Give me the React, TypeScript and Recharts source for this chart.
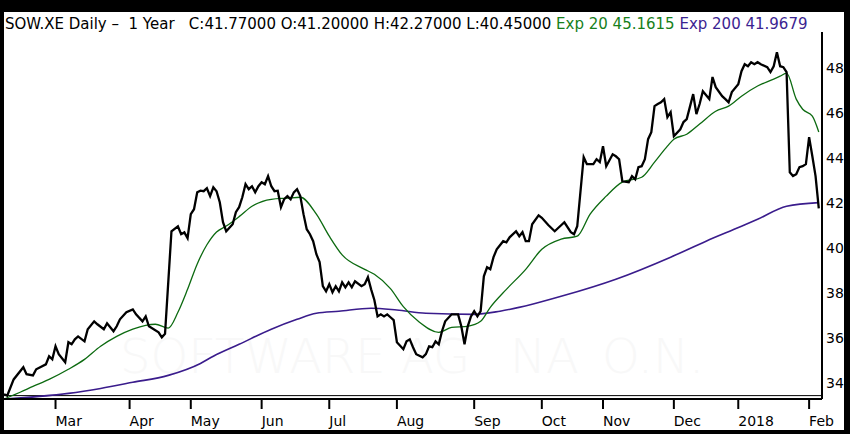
import React from 'react';
import { LineChart, Line, XAxis, YAxis, ReferenceLine } from 'recharts';

// trading-day index of the first session of each month
const MONTH_TICKS = [16, 39, 58, 80, 101, 122, 146, 167, 186, 208, 228, 250];
const MONTH_LABELS = ['Mar', 'Apr', 'May', 'Jun', 'Jul', 'Aug', 'Sep', 'Oct', 'Nov', 'Dec', '2018', 'Feb'];
const PRICE_TICKS = [34, 36, 38, 40, 42, 44, 46, 48];
const LAST_DAY = 253;

// [trading day, close]
const CLOSE: [number, number][] = [
  [0, 33.51], [1, 33.45], [3, 34.17], [6, 34.71], [7, 34.4], [9, 34.35], [10, 34.62], [13, 34.84],
  [14, 35.2], [15, 35.06], [16, 35.64], [17, 35.29], [19, 34.93], [20, 35.82], [21, 35.73], [22, 35.95],
  [23, 36.08], [25, 35.86], [26, 36.4], [28, 36.75], [29, 36.62], [31, 36.4], [32, 36.66], [34, 36.31],
  [35, 36.53], [36, 36.84], [38, 37.15], [40, 37.28], [41, 37.06], [43, 36.75], [44, 36.97], [45, 36.53],
  [48, 36.26], [49, 36.04], [50, 36.2], [52, 40.75], [54, 40.97], [55, 40.62], [56, 40.7], [57, 40.44],
  [58, 41.51], [59, 41.73], [60, 42.48], [61, 42.55], [62, 42.53], [63, 42.66], [64, 42.31], [65, 42.7],
  [66, 42.53], [67, 42.04], [68, 41.15], [69, 40.75], [71, 41.06], [72, 41.6], [73, 41.82], [74, 42.26],
  [75, 42.84], [76, 42.62], [77, 42.75], [78, 42.48], [79, 42.75], [80, 42.93], [81, 42.84], [82, 43.2],
  [83, 42.75], [84, 42.53], [85, 42.55], [86, 41.82], [87, 42.18], [88, 42.31], [89, 42.17], [90, 42.48],
  [91, 42.62], [92, 42.31], [93, 41.51], [94, 40.84], [95, 40.62], [96, 40.31], [97, 39.73], [98, 39.38],
  [99, 38.31], [100, 38.08], [101, 38.4], [102, 38.04], [103, 38.31], [104, 38.08], [105, 38.48], [106, 38.26],
  [107, 38.48], [108, 38.26], [109, 38.53], [111, 38.31], [112, 38.4], [113, 38.71], [114, 38.17], [115, 37.7],
  [116, 36.97], [117, 37.06], [118, 36.97], [119, 37.06], [120, 36.93], [121, 36.8], [122, 35.82], [124, 35.51],
  [125, 35.86], [126, 35.95], [127, 35.6], [128, 35.29], [130, 35.15], [131, 35.29], [132, 35.64], [133, 35.6],
  [134, 35.86], [135, 35.73], [136, 36.31], [137, 36.75], [139, 37.06], [141, 37.06], [142, 36.53], [143, 35.73],
  [144, 36.53], [145, 36.97], [146, 37.2], [147, 36.97], [148, 37.2], [149, 38.75], [150, 39.15], [151, 39.06],
  [152, 39.6], [153, 39.95], [155, 40.31], [156, 40.26], [157, 40.48], [159, 40.75], [160, 40.53], [161, 40.71],
  [162, 40.31], [163, 40.31], [164, 41.06], [166, 41.46], [167, 41.35], [169, 41.03], [171, 40.75], [174, 41.15],
  [176, 40.71], [177, 40.62], [178, 40.97], [180, 44.04], [181, 43.73], [183, 43.73], [184, 43.95], [185, 43.82],
  [186, 44.53], [187, 43.64], [189, 44.17], [190, 44.08], [191, 43.95], [192, 42.97], [194, 42.93], [195, 43.2],
  [196, 43.06], [197, 43.6], [198, 43.64], [199, 43.95], [200, 44.84], [201, 45.15], [202, 46.31], [203, 46.4],
  [204, 46.48], [205, 46.62], [206, 45.82], [207, 46.04], [208, 44.97], [210, 45.28], [211, 45.6], [212, 45.73],
  [214, 46.84], [215, 45.95], [216, 46.4], [217, 46.97], [219, 46.62], [220, 47.6], [221, 47.15], [223, 46.75],
  [224, 46.62], [225, 46.48], [226, 46.93], [228, 47.28], [229, 47.86], [230, 48.17], [231, 48.08], [232, 48.26],
  [233, 48.17], [234, 48.26], [235, 48.17], [237, 48.04], [238, 47.82], [239, 48.08], [240, 48.7], [241, 48.08],
  [242, 48.04], [243, 47.82], [244, 43.37], [245, 43.2], [246, 43.28], [247, 43.6], [248, 43.64], [249, 43.73],
  [250, 44.93], [251, 44.08], [252, 43.2], [253, 41.77],
];

// [trading day, exp 20]
const EXP20: [number, number][] = [
  [0, 33.3], [5, 33.6], [9, 33.86], [14, 34.17], [20, 34.62], [25, 35.06], [30, 35.64], [35, 36.08],
  [40, 36.4], [44, 36.57], [47, 36.62], [51, 36.45], [54, 37.15], [57, 38.17], [60, 39.3], [63, 40.15],
  [66, 40.72], [69, 40.98], [73, 41.4], [77, 41.86], [83, 42.17], [88, 42.22], [92, 42.26], [97, 41.51],
  [101, 40.53], [105, 39.7], [112, 39.06], [115, 38.84], [120, 38.2], [124, 37.4], [129, 36.71], [135, 36.26],
  [139, 36.48], [144, 36.53], [148, 36.75], [151, 37.37], [156, 38.17], [162, 39.06], [167, 39.95], [173, 40.4],
  [178, 40.53], [182, 41.51], [187, 42.31], [192, 42.93], [198, 43.15], [202, 43.82], [206, 44.53], [208, 44.84],
  [212, 45.06], [216, 45.51], [221, 46.08], [225, 46.31], [229, 46.75], [234, 47.2], [239, 47.51], [241, 47.64],
  [243, 47.77], [246, 46.62], [248, 46.17], [251, 45.86], [253, 45.16],
];

// [trading day, exp 200]
const EXP200: [number, number][] = [
  [0, 33.3], [20, 33.55], [30, 33.77], [40, 34.04], [51, 34.35], [61, 34.88], [65, 35.2], [73, 35.73],
  [83, 36.4], [91, 36.84], [97, 37.11], [104, 37.2], [114, 37.33], [122, 37.25], [131, 37.11], [146, 37.06],
  [154, 37.2], [164, 37.51], [173, 37.86], [190, 38.62], [207, 39.6], [218, 40.31], [229, 40.97], [234, 41.28],
  [243, 41.86], [253, 42.02],
];

type Row = { day: number; close?: number; exp20?: number; exp200?: number };
const rows: Row[] = Array.from({ length: LAST_DAY + 1 }, (_, day) => ({ day }));
CLOSE.forEach(([d, v]) => { rows[d].close = v; });
EXP20.forEach(([d, v]) => { rows[d].exp20 = v; });
EXP200.forEach(([d, v]) => { rows[d].exp200 = v; });

const FONT = '"DejaVu Sans", Verdana, sans-serif';
const GREEN = '#0c6a10';
const PURPLE = '#3a1c8c';

const mark: React.CSSProperties = {
  position: 'absolute',
  top: 332,
  fontFamily: FONT,
  fontSize: 48,
  lineHeight: '48px',
  fontWeight: 200,
  color: '#f8f8f8',
  whiteSpace: 'pre',
};

export default function App() {
  return (
    <div style={{ position: 'absolute', left: 0, top: 0, width: 850, height: 434, background: '#000', overflow: 'hidden' }}>
      <div style={{ position: 'absolute', left: 4, top: 12, width: 840, height: 418, background: '#fff' }} />
      <span style={{ ...mark, left: 120 }}>SOFTWARE AG</span>
      <span style={{ ...mark, left: 510 }}>NA</span>
      <span style={{ ...mark, left: 602 }}>O.N.</span>
      <div
        style={{
          position: 'absolute', left: 5, top: 17, fontFamily: FONT, fontSize: 15,
          lineHeight: '15px', whiteSpace: 'pre', color: '#000',
        }}
      >
        {'SOW.XE Daily \u2013  1 Year   C:41.77000 O:41.20000 H:42.27000 L:40.45000 '}
        <span style={{ color: '#17801b' }}>Exp 20 45.1615</span>{' '}
        <span style={{ color: '#3b2491' }}>Exp 200 41.9679</span>
      </div>
      <div style={{ position: 'absolute', left: 0, top: 0 }}>
        <LineChart
          width={850}
          height={434}
          data={rows}
          margin={{ top: 32, right: 0, bottom: 0, left: 4 }}
          style={{ fontFamily: FONT }}
        >
          <XAxis
            dataKey="day"
            type="number"
            domain={[0, 254]}
            ticks={MONTH_TICKS}
            tickFormatter={(d: number) => MONTH_LABELS[MONTH_TICKS.indexOf(d)] ?? ''}
            height={35}
            interval={0}
            axisLine={{ stroke: '#000', strokeWidth: 2 }}
            tickLine={{ stroke: '#000', strokeWidth: 2 }}
            tickSize={10}
            tickMargin={7}
            tick={{ fill: '#000', fontSize: 14, textAnchor: 'start' }}
          />
          <YAxis
            orientation="right"
            type="number"
            domain={[33.3, 49.6]}
            ticks={PRICE_TICKS}
            allowDataOverflow
            width={28}
            axisLine={{ stroke: '#000', strokeWidth: 2 }}
            tickLine={false}
            tickSize={0}
            tickMargin={4}
            tick={{ fill: '#000', fontSize: 14 }}
          />
          <ReferenceLine y={33.45} stroke="#000" strokeWidth={1} />
          <Line
            dataKey="exp200"
            type="monotone"
            stroke={PURPLE}
            strokeWidth={1.6}
            dot={false}
            connectNulls
            isAnimationActive={false}
          />
          <Line
            dataKey="exp20"
            type="monotone"
            stroke={GREEN}
            strokeWidth={1.3}
            dot={false}
            connectNulls
            isAnimationActive={false}
          />
          <Line
            dataKey="close"
            type="linear"
            stroke="#000"
            strokeWidth={2.3}
            dot={false}
            connectNulls
            isAnimationActive={false}
          />
        </LineChart>
      </div>
    </div>
  );
}
